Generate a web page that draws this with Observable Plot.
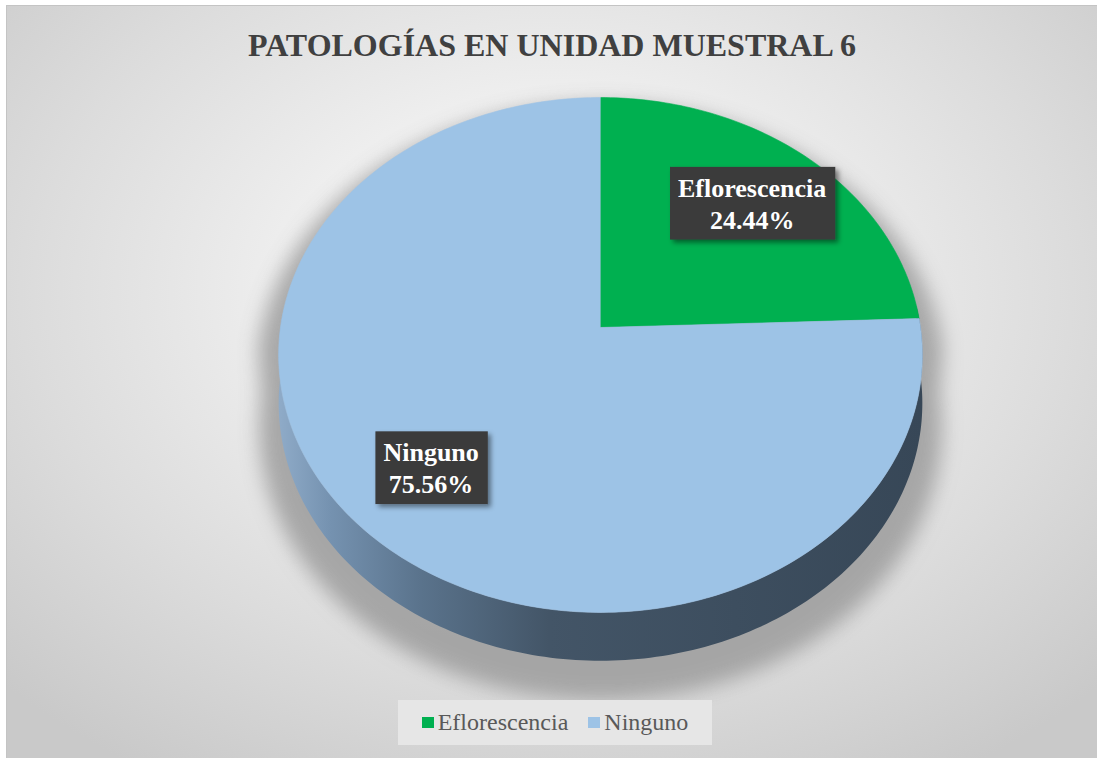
<!DOCTYPE html>
<html>
<head>
<meta charset="utf-8">
<script src="https://cdn.jsdelivr.net/npm/d3@7"></script>
<script src="https://cdn.jsdelivr.net/npm/@observablehq/plot@0.6"></script>
<style>
html, body { margin: 0; padding: 0; background: #fff; }
#chart { position: relative; width: 1097px; height: 758px; overflow: hidden; background: #fff; }
#frame { position: absolute; left: 6px; top: 5px; width: 1091px; height: 753px;
  border-left: 1px solid #c4c4c4; border-top: 1px solid #c4c4c4;
  background: radial-gradient(ellipse 70% 75% at 50% 38%, #fbfbfb 0%, #f1f1f1 30%, #dcdcdc 68%, #c9c9c9 100%); }
#title { position: absolute; left: 0; top: 29px; width: 1097px; padding-left: 7px; box-sizing: border-box;
  text-align: center; font-weight: bold; font-size: 32px;
  line-height: 32px; color: #404040; white-space: nowrap; }
#plot { position: absolute; left: 0; top: 0; }
#legend { position: absolute; left: 398px; top: 700px; width: 314px; height: 45px; background: #e6e6e6;
  display: flex; align-items: center; justify-content: center;
  font-size: 24px; color: #595959; }
#legend .item { display: flex; align-items: center; margin: 0 10px; }
#legend .sw { width: 12px; height: 11px; margin-right: 4px; }
</style>
</head>
<body>
<div id="chart">
  <div id="frame"></div>
  <div id="plot"></div>
  <div id="title">PATOLOGÍAS EN UNIDAD MUESTRAL 6</div>
  <div id="legend"></div>
</div>
<script>
// ---- data ----
const categories = ["Eflorescencia", "Ninguno"];
const values = [24.44, 75.56];
const colors = ["#00b050", "#9dc3e6"];
const labels = values.map(v => v.toFixed(2) + "%");

const SERIF = '"Liberation Serif", "Times New Roman", Tinos, serif';
document.getElementById("title").style.fontFamily = SERIF;
document.getElementById("legend").style.fontFamily = SERIF;

// ---- 3D pie geometry (tilted disc with perspective) ----
const D = 9.37;       // perspective distance (in radii)
const DEPTH = 0.19;   // thickness (in radii)
function proj(u, v) { const s = D / (D + v); return [u * s, v * s]; }
function rim(deg, r = 1) { const t = deg * Math.PI / 180; return proj(r * Math.cos(t), r * Math.sin(t)); }

const total = d3.sum(values);
let cum = 0;
const slices = categories.map((c, i) => {
  const a0 = 90 - cum / total * 360;
  cum += values[i];
  const a1 = 90 - cum / total * 360;
  return { key: c, a0, a1, label: c + "\n" + labels[i] };
});

// top face
const topPts = [];
for (const s of slices) {
  const [cx, cy] = proj(0, 0);
  topPts.push({ key: s.key, x: cx, y: cy });
  const n = Math.ceil(Math.abs(s.a0 - s.a1));
  for (let k = 0; k <= n; k++) {
    const [x, y] = rim(s.a0 + (s.a1 - s.a0) * k / n);
    topPts.push({ key: s.key, x, y });
  }
}

// side wall (front half)
const sidePts = [];
for (let a = 175; a <= 365; a += 1) { const [x, y] = rim(a); sidePts.push({ x, y }); }
for (let a = 365; a >= 175; a -= 1) { const [x, y] = rim(a); sidePts.push({ x, y: y - DEPTH }); }

// soft shadow outline
const shadowPts = [];
for (let a = 0; a <= 180; a += 2) { const [x, y] = rim(a, 1.07); shadowPts.push({ x, y: y - 0.08 }); }
for (let a = 180; a <= 360; a += 2) { const [x, y] = rim(a, 1.06); shadowPts.push({ x, y: y - DEPTH - 0.08 }); }

// labels at mid angles
const labelPts = slices.map(s => {
  const [x, y] = rim((s.a0 + s.a1) / 2, 0.72);
  return { x, y, text: s.label };
});

const plot = Plot.plot({
  width: 1097, height: 758, margin: 0,
  x: { domain: [-1, 1], range: [280, 920], axis: null },
  y: { domain: [-1, 1], range: [581.5, 72.5], axis: null },
  color: { domain: categories, range: colors },
  style: { background: "transparent", overflow: "visible" },
  marks: [
    Plot.line(shadowPts, { x: "x", y: "y", fill: "#9c9c9c", stroke: "none" }),
    Plot.line(sidePts, { x: "x", y: "y", fill: "url(#sideGrad)", stroke: "none" }),
    Plot.line(topPts, { x: "x", y: "y", z: "key", fill: "key", stroke: "key", strokeWidth: 0.6 }),
    Plot.text(labelPts, { x: "x", y: "y", text: "text", fill: "white", fontSize: 26, fontWeight: "bold",
      fontFamily: SERIF, lineHeight: 1.22 })
  ]
});
document.getElementById("plot").appendChild(plot);

// defs: gradient, blur, drop shadow
const svg = d3.select(plot);
const defs = svg.insert("defs", ":first-child");
const g = defs.append("linearGradient").attr("id", "sideGrad").attr("x1", 0).attr("x2", 1).attr("y1", 0).attr("y2", 0);
[[0, "#8fabc8"], [0.08, "#7592b0"], [0.22, "#5a738c"], [0.42, "#435567"], [1, "#374757"]].forEach(([o, c]) =>
  g.append("stop").attr("offset", o).attr("stop-color", c));
defs.append("filter").attr("id", "blurShadow").attr("x", "-20%").attr("y", "-20%").attr("width", "140%").attr("height", "140%")
  .append("feGaussianBlur").attr("stdDeviation", 10);
defs.append("filter").attr("id", "boxShadow").attr("x", "-20%").attr("y", "-20%").attr("width", "150%").attr("height", "150%")
  .append("feDropShadow").attr("dx", 3).attr("dy", 3).attr("stdDeviation", 2.5).attr("flood-color", "#000").attr("flood-opacity", 0.45);

const groups = plot.querySelectorAll(":scope > g");
groups[0].setAttribute("filter", "url(#blurShadow)");
groups[0].setAttribute("opacity", "0.85");

// label boxes
const textG = groups[groups.length - 1];
textG.querySelectorAll("text").forEach(t => {
  t.style.fontFamily = SERIF;
  const b = t.getBBox();
  const r = document.createElementNS("http://www.w3.org/2000/svg", "rect");
  r.setAttribute("x", b.x - 8);
  r.setAttribute("y", b.y - 7);
  r.setAttribute("width", b.width + 17);
  r.setAttribute("height", b.height + 12);
  r.setAttribute("fill", "#3b3b3b");
  r.setAttribute("filter", "url(#boxShadow)");
  const tr = t.getAttribute("transform");
  if (tr) r.setAttribute("transform", tr);
  t.parentNode.insertBefore(r, t);
});

// legend
const legend = d3.select("#legend");
categories.forEach((c, i) => {
  const it = legend.append("div").attr("class", "item");
  it.append("div").attr("class", "sw").style("background", colors[i]);
  it.append("span").style("font-family", SERIF).text(c);
});
</script>
</body>
</html>
